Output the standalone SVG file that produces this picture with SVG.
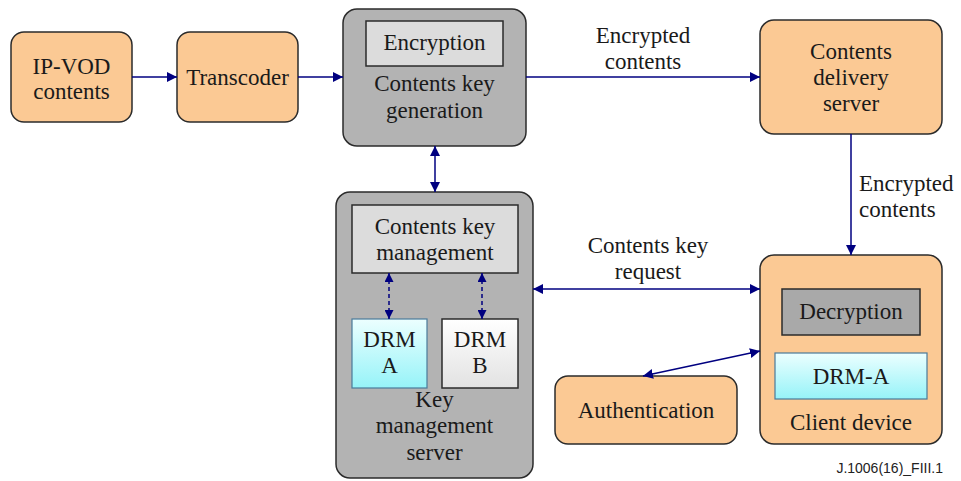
<svg xmlns="http://www.w3.org/2000/svg" width="961" height="481" viewBox="0 0 961 481">
<defs>
<marker id="ah" viewBox="0 0 10 10" refX="10" refY="5" markerWidth="10" markerHeight="10" markerUnits="userSpaceOnUse" orient="auto-start-reverse">
<path d="M0,0 L10,5 L0,10 z" fill="#000080"/>
</marker>
<marker id="ahs" viewBox="0 0 10 10" refX="10" refY="5" markerWidth="9" markerHeight="9" markerUnits="userSpaceOnUse" orient="auto-start-reverse">
<path d="M0,0 L10,5 L0,10 z" fill="#000080"/>
</marker>
<linearGradient id="cyan" x1="0" y1="0" x2="0" y2="1">
<stop offset="0" stop-color="#ecffff"/>
<stop offset="1" stop-color="#96f3f8"/>
</linearGradient>
<linearGradient id="grayg" x1="0" y1="0" x2="0" y2="1">
<stop offset="0" stop-color="#ffffff"/>
<stop offset="1" stop-color="#e2e2e2"/>
</linearGradient>
</defs>
<style>
.orange{fill:#fbc994;stroke:#2b2b2b;stroke-width:1.5}
.gray{fill:#b3b3b3;stroke:#2b2b2b;stroke-width:1.5}
.inner{fill:#dcdcdc;stroke:#2b2b2b;stroke-width:1.5}
.dec{fill:#a9a9a9;stroke:#2b2b2b;stroke-width:1.5}
.cy{fill:url(#cyan);stroke:#4a7a9a;stroke-width:1.2}
.wg{fill:url(#grayg);stroke:#2b2b2b;stroke-width:1.5}
.t{font-family:'Liberation Serif',serif;font-size:23px;fill:#1a1a1a;text-anchor:middle}
.ln{stroke:#000080;stroke-width:1.5;fill:none}
.dash{stroke:#000080;stroke-width:1.5;fill:none;stroke-dasharray:4 3}
.foot{font-family:'Liberation Sans',sans-serif;font-size:14px;text-anchor:end;fill:#222}
</style>
<rect width="961" height="481" fill="#ffffff"/>

<g id="ipvod">
<rect class="orange" x="11" y="32" width="121" height="90" rx="13"/>
<text class="t" font-family="Liberation Serif" x="71.5" y="74">IP-VOD</text>
<text class="t" font-family="Liberation Serif" x="71.5" y="99">contents</text>
</g>
<g id="transcoder">
<rect class="orange" x="177" y="32" width="121" height="90" rx="13"/>
<text class="t" x="237.5" y="85">Transcoder</text>
</g>
<g id="keygen">
<rect class="gray" x="343" y="9" width="183" height="137" rx="14"/>
<rect class="inner" x="366" y="21" width="137" height="45"/>
<text class="t" x="434.5" y="50">Encryption</text>
<text class="t" x="434.5" y="91">Contents key</text>
<text class="t" x="434.5" y="118">generation</text>
</g>
<g id="delivery">
<rect class="orange" x="760" y="20" width="182" height="114" rx="14"/>
<text class="t" x="851" y="59">Contents</text>
<text class="t" x="851" y="85">delivery</text>
<text class="t" x="851" y="111">server</text>
</g>
<g id="keymgmt">
<rect class="gray" x="336" y="192" width="197" height="286" rx="14"/>
<rect class="inner" x="352" y="205" width="166" height="68"/>
<text class="t" x="435" y="234">Contents key</text>
<text class="t" x="435" y="260">management</text>
<g id="drma">
<rect class="cy" x="352" y="319" width="75" height="69"/>
<text class="t" x="389.5" y="347">DRM</text>
<text class="t" x="389.5" y="373">A</text>
</g>
<g id="drmb">
<rect class="wg" x="442" y="319" width="76" height="69"/>
<text class="t" x="480" y="347">DRM</text>
<text class="t" x="480" y="373">B</text>
</g>
<text class="t" x="434.5" y="407">Key</text>
<text class="t" x="434.5" y="433">management</text>
<text class="t" x="434.5" y="460">server</text>
</g>
<g id="client">
<rect class="orange" x="760" y="255" width="182" height="189" rx="14"/>
<rect class="dec" x="782" y="289" width="138" height="46"/>
<text class="t" x="851" y="319">Decryption</text>
<rect class="cy" x="775" y="353" width="152" height="46"/>
<text class="t" x="851" y="384">DRM-A</text>
<text class="t" x="851" y="430">Client device</text>
</g>
<g id="auth">
<rect class="orange" x="555" y="376" width="182" height="68" rx="13"/>
<text class="t" x="646" y="418">Authentication</text>
</g>

<g id="connectors">
<line class="ln" x1="132" y1="77" x2="177" y2="77" marker-end="url(#ah)"/>
<line class="ln" x1="298" y1="77" x2="343" y2="77" marker-end="url(#ah)"/>
<line class="ln" x1="526" y1="77" x2="760" y2="77" marker-end="url(#ah)"/>
<line class="ln" x1="435" y1="146" x2="435" y2="192" marker-start="url(#ah)" marker-end="url(#ah)"/>
<line class="ln" x1="851" y1="134" x2="851" y2="255" marker-end="url(#ah)"/>
<line class="ln" x1="533" y1="289" x2="760" y2="289" marker-start="url(#ah)" marker-end="url(#ah)"/>
<line class="ln" x1="643" y1="376" x2="760" y2="351" marker-start="url(#ah)" marker-end="url(#ah)"/>
<line class="dash" x1="389" y1="273" x2="389" y2="319" marker-start="url(#ahs)" marker-end="url(#ahs)"/>
<line class="dash" x1="482" y1="273" x2="482" y2="319" marker-start="url(#ahs)" marker-end="url(#ahs)"/>
</g>

<text class="t" x="643" y="43">Encrypted</text>
<text class="t" x="643" y="69">contents</text>
<text class="t" x="859" y="191" text-anchor="start" style="text-anchor:start">Encrypted</text>
<text class="t" x="859" y="217" style="text-anchor:start">contents</text>
<text class="t" x="648" y="253">Contents key</text>
<text class="t" x="648" y="279">request</text>
<text class="foot" x="943" y="473">J.1006(16)_FIII.1</text>
</svg>
